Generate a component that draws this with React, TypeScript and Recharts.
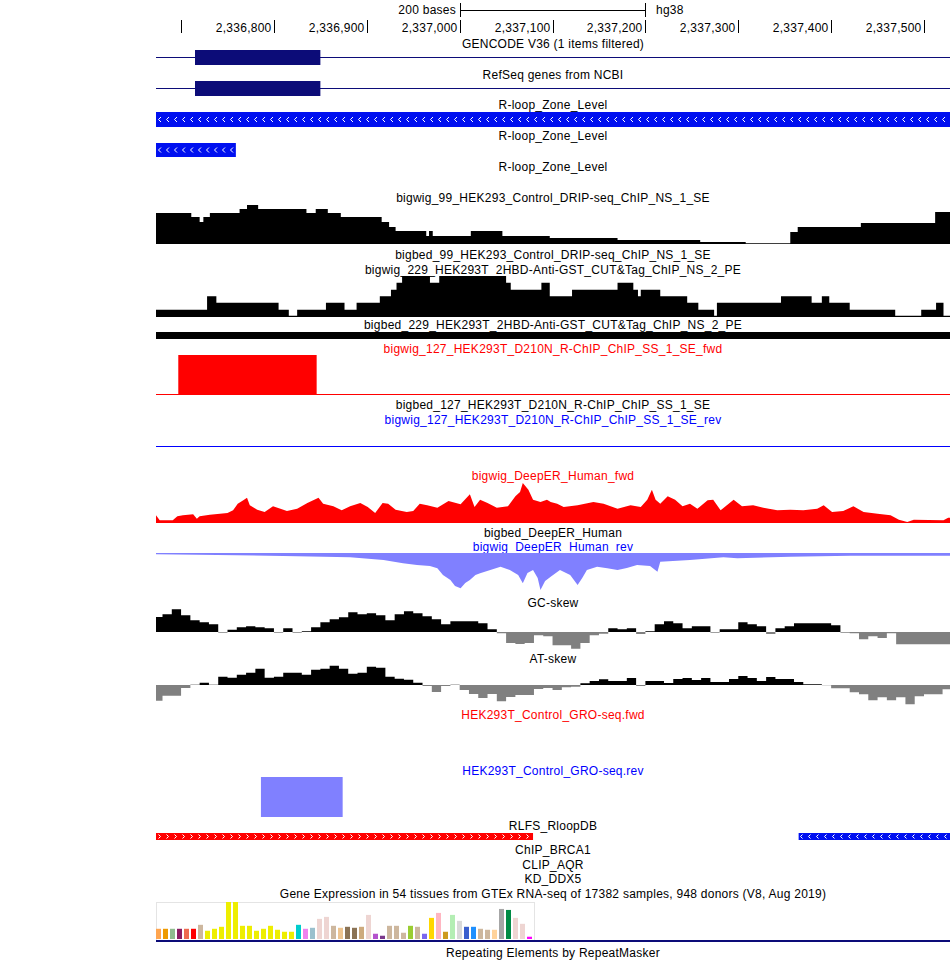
import React from "react";
import {
  ComposedChart,
  BarChart,
  Bar,
  Area,
  Line,
  Cell,
  XAxis,
  YAxis,
  ReferenceLine,
} from "recharts";

// window shown: chr17 (hg38) 2,336,673 - 2,337,528
const START = 2336673;
const END = 2337528;
const LEFT = 156;
const W = 794;
const FONT = '"Liberation Sans", Arial, Helvetica, sans-serif';
const NONE = { top: 0, right: 0, bottom: 0, left: 0 };

// ruler
const rulerTicks = [2336700, 2336800, 2336900, 2337000, 2337100, 2337200, 2337300, 2337400, 2337500];
const scaleBar: [number, number] = [2337000, 2337200];

// gene models (transcript runs through the whole window)
const gencodeTx: [number, number] = [START, END];
const gencodeCds: [number, number] = [2336715, 2336850];
const refseqTx: [number, number] = [START, END];
const refseqCds: [number, number] = [2336715, 2336850];

// bigBed items
const rloopZone1: [number, number] = [START, END];
const rloopZone2: [number, number] = [START, 2336759];
const cutTagPeak: [number, number] = [START, END];
const rlfsFwd: [number, number] = [START, 2337079];
const rlfsRev: [number, number] = [2337365, END];

// bigWig signals, [start, value]
const drip99: [number, number][] = [
  [2336673, 31], [2336711, 27], [2336720, 22], [2336724, 27], [2336731, 31], [2336763, 35],
  [2336771, 39], [2336783, 35], [2336835, 31], [2336845, 35], [2336858, 31], [2336872, 27],
  [2336916, 22], [2336924, 17], [2336931, 13], [2336964, 8], [2336967, 13], [2336971, 8],
  [2337012, 13], [2337046, 8], [2337097, 6], [2337170, 4], [2337259, 2], [2337308, 0.7],
  [2337356, 12], [2337364, 17], [2337432, 21], [2337512, 32],
];

const cutTag229: [number, number][] = [
  [2336673, 7.3], [2336728, 20.7], [2336738, 14.3], [2336805, 7.3], [2336816, 1.3], [2336825, 7.3],
  [2336856, 14.3], [2336876, 7.3], [2336889, 14.3], [2336914, 20.7], [2336926, 27.3], [2336932, 34.3],
  [2336938, 41], [2336968, 34.3], [2336978, 41], [2337050, 34.3], [2337055, 27.3], [2337088, 34.3],
  [2337097, 20.7], [2337121, 27.3], [2337170, 34.3], [2337187, 27.3], [2337192, 20.7], [2337195, 27.3],
  [2337216, 20.7], [2337245, 14.3], [2337257, 7.3], [2337274, 1.3], [2337277, 14.3], [2337346, 20.7],
  [2337379, 14.3], [2337390, 20.7], [2337398, 14.3], [2337420, 7.3], [2337469, 1.3], [2337497, 7.3],
  [2337513, 14.3], [2337521, 1.3],
];

const rchipFwd: [number, number][] = [[START, 0], [2336697, 1], [2336846, 0]];
const rchipRev: [number, number][] = [[START, 0]];

// DeepER coverage, sampled along the profile
const deeperFwd: [number, number][] = [
  [2336673, 7.7], [2336677, 2.7], [2336691, 2.7], [2336696, 6.7], [2336702, 7.7], [2336713, 8.7],
  [2336717, 4.3], [2336720, 6.7], [2336731, 8.3], [2336750, 10], [2336756, 12.7], [2336761, 19.3],
  [2336767, 22.7], [2336771, 25.3], [2336774, 17.7], [2336782, 13.3], [2336790, 11], [2336799, 16.7],
  [2336807, 14.3], [2336814, 12], [2336825, 14.3], [2336836, 20], [2336848, 25.3], [2336853, 19.3],
  [2336864, 16.7], [2336873, 12.7], [2336882, 16.7], [2336893, 20], [2336901, 16], [2336909, 10],
  [2336917, 20], [2336923, 19.3], [2336931, 13.3], [2336943, 11], [2336950, 12], [2336957, 19.3],
  [2336965, 17.7], [2336976, 15.3], [2336988, 22], [2337001, 18.7], [2337011, 28.7], [2337016, 16],
  [2337022, 23.3], [2337030, 20], [2337040, 15.3], [2337052, 16.7], [2337060, 26.7], [2337065, 31],
  [2337068, 40], [2337074, 33.3], [2337079, 23.3], [2337087, 21], [2337094, 23.3], [2337098, 21],
  [2337105, 19.3], [2337112, 16], [2337127, 17.7], [2337144, 21], [2337155, 19.3], [2337170, 14.3],
  [2337184, 17.7], [2337195, 16], [2337202, 23.3], [2337207, 33.3], [2337211, 23.3], [2337216, 19.3],
  [2337224, 26.7], [2337232, 23.3], [2337240, 16.7], [2337248, 19.3], [2337256, 14.3], [2337267, 22.7],
  [2337273, 23.3], [2337281, 12.7], [2337295, 23.3], [2337304, 16.7], [2337316, 17.7], [2337327, 15.3],
  [2337342, 12.7], [2337356, 13.3], [2337370, 12.7], [2337385, 14.3], [2337392, 17.7], [2337401, 11],
  [2337413, 12], [2337424, 16.7], [2337435, 11], [2337450, 9.3], [2337464, 7.7], [2337473, 3.3],
  [2337482, 1], [2337489, 3.3], [2337521, 2.7], [2337526, 5.3],
];

const deeperRev: [number, number][] = [
  [2336673, -1.3], [2336739, -2], [2336810, -3], [2336882, -4.3], [2336918, -7], [2336939, -10.3],
  [2336954, -12], [2336968, -13], [2336976, -15.3], [2336982, -22], [2336990, -27], [2336995, -33],
  [2337001, -35.3], [2337006, -30], [2337011, -27], [2337017, -22], [2337022, -20.3], [2337033, -17],
  [2337044, -13.7], [2337054, -17], [2337063, -22], [2337068, -30.3], [2337073, -20], [2337079, -17],
  [2337084, -25], [2337087, -37], [2337092, -28], [2337098, -23.7], [2337108, -17], [2337119, -22],
  [2337127, -32], [2337132, -25], [2337137, -17], [2337148, -13.7], [2337159, -15.3], [2337170, -17],
  [2337180, -15], [2337191, -12], [2337205, -13], [2337213, -18.7], [2337216, -8.7], [2337248, -7],
  [2337284, -4.3], [2337299, -5.3], [2337356, -3.7], [2337421, -2.7], [2337526, -2.7],
];

const groRev: [number, number][] = [[START, 0], [2336786, -1], [2336874, 0]];

// GC / AT skew in 10 bp windows, first window starts at 2,336,670
const SKEW_FIRST = 2336670;
const SKEW_BIN = 10;
const gcSkew = [
  15, 17.7, 22.7, 16.7, 11.7, 9.7, 7.7, -0.7, 2.3, 4.7, 5.7, 4.7, 3.7, -0.7, 3.7, -0.7, 0.7, 4.7,
  9.7, 12.7, 14.7, 19.7, 17.7, 18.7, 16.7, 11.7, 17.7, 20.7, 18.7, 15.7, 12.7, 7.7, 10.7, 10.7, 10.7,
  8.7, 2.7, -1.3, -11, -12, -11, -3.3, -4.3, -13.3, -13.3, -16.7, -11, -3.3, -1.7, 3.7, 2.7, 3.7, -2,
  0.7, 7.7, 10.7, 8.7, 3.7, 5.7, 5.7, -0.7, 2.7, 2.7, 9.7, 7.7, 5.7, -2, 3.7, 5.7, 8.7, 8.7, 8.7, 8.7,
  6.7, -0.7, -1.3, -7.3, -4.3, -6, -1.3, -12.3, -12.3, -12.3, -12.3, -12.3, -12.3,
];
const atSkew = [
  -15.7, -10.7, -10.7, -3, 0.3, 2.3, 0.3, 8.3, 7.3, 10.3, 12.3, 16.3, 7.3, 8.3, 12.3, 12.3, 10.3,
  15.3, 16.3, 19.3, 16.3, 11.3, 12.3, 18.3, 17.3, 8.3, 6.3, 5.3, 2.3, -1, -7, -1, 0.3, -5, -9, -13, -9,
  -16.3, -12, -10, -10, -4, -3, -5, -2.3, -1.7, 1.7, 4, 5.7, 4, 4, 7, -1, 4, 4, 2, 6, 7, 5, 7, 3, 3, 6,
  9, 7, 4, 8, 6, 6, 3, 0.7, 0.7, -0.3, -3.3, -3.3, -7.3, -9.3, -15.3, -12.3, -15.3, -12.3, -19.3,
  -11.3, -9.3, -9.3, -4.3,
];

// GTEx V8 median expression per tissue
const gtexTissues = [
  "Adipose Subcut", "Adipose Visceral", "Adrenal", "Artery Aorta", "Artery Coronary", "Artery Tibial",
  "Bladder", "Brain Amygdala", "Brain ACC", "Brain Caudate", "Brain Cereb Hemi", "Brain Cerebellum",
  "Brain Cortex", "Brain Frontal", "Brain Hippocampus", "Brain Hypothalamus", "Brain Nuc Acc",
  "Brain Putamen", "Brain Spinal", "Brain Subst Nigra", "Breast", "EBV Lymphocytes", "Fibroblasts",
  "Ectocervix", "Endocervix", "Colon Sigmoid", "Colon Transverse", "Esoph GEJ", "Esoph Mucosa",
  "Esoph Muscularis", "Fallopian Tube", "Heart Atrial", "Heart LV", "Kidney Cortex", "Kidney Medulla",
  "Liver", "Lung", "Salivary Gland", "Muscle Skeletal", "Nerve Tibial", "Ovary", "Pancreas",
  "Pituitary", "Prostate", "Skin No Sun", "Skin Sun", "Small Intestine", "Spleen", "Stomach", "Testis",
  "Thyroid", "Uterus", "Vagina", "Whole Blood",
];
const gtexTpm = [
  10.3, 10.3, 10.3, 10.3, 10.3, 10.3, 14.3, 8.3, 10.3, 12.3, 37.3, 37.3, 13.3, 13.3, 8.3, 10.3, 13.3,
  9.3, 7.3, 7.3, 14.3, 10.3, 11.3, 20.3, 22.3, 13.3, 11.3, 12.3, 11.3, 12.3, 24.3, 5.3, 3.3, 13.3,
  13.3, 6.3, 13.3, 12.3, 5.3, 21.3, 26.3, 7.3, 24.3, 18.3, 12.3, 12.3, 10.3, 9.3, 9.3, 30.3, 29.3,
  21.3, 15.3, 2.3,
];
const gtexColors = [
  "#FFA54F", "#EE9A00", "#8FBC8F", "#8B1C62", "#EE6A50", "#FF0000", "#CDB79E",
  "#EEEE00", "#EEEE00", "#EEEE00", "#EEEE00", "#EEEE00", "#EEEE00", "#EEEE00", "#EEEE00", "#EEEE00",
  "#EEEE00", "#EEEE00", "#EEEE00", "#EEEE00",
  "#00CDCD", "#EE82EE", "#9AC0CD", "#EED5D2", "#EED5D2", "#CDB79E", "#EEC591", "#8B7355", "#8B7355",
  "#CDAA7D", "#EED5D2", "#B452CD", "#7A378B", "#CDB79E", "#CDB79E", "#CDB79E", "#9ACD32", "#CDB79E",
  "#7A67EE", "#FFD700", "#FFB6C1", "#CD9B1D", "#B4EEB4", "#D9D9D9", "#3A5FCD", "#1E90FF", "#CDB79E",
  "#CDB79E", "#FFD39B", "#A6A6A6", "#008B45", "#EED5D2", "#EED5D2", "#FF00FF",
];

const NAVY = "#0c0c78";
const BLUE = "#0000ff";
const ZONE_BLUE = "#0010f0";
const RED = "#ff0000";
const LIGHT_BLUE = "#8080ff";

const toSteps = (steps: [number, number][]) => {
  const rows = steps.map(([pos, v]) => ({ pos, v }));
  rows.push({ pos: END, v: steps[steps.length - 1][1] });
  return rows;
};

function Txt({ base, color = "#000", children, left = LEFT, width = W, align = "center" }: any) {
  return (
    <div
      style={{
        position: "absolute",
        left,
        width,
        top: base - 10.2,
        fontSize: 12,
        lineHeight: "12px",
        color,
        textAlign: align,
        whiteSpace: "nowrap",
        letterSpacing: 0.25,
      }}
    >
      {children}
    </div>
  );
}

function Signal({ top, height, steps, domain, color, base, curve = "stepAfter", pad = 0 }: any) {
  return (
    <div style={{ position: "absolute", left: LEFT, top, width: W, height }}>
      <ComposedChart
        width={W}
        height={height}
        data={toSteps(steps)}
        margin={{ top: pad, right: 0, bottom: 0, left: 0 }}
      >
        <XAxis dataKey="pos" type="number" domain={[START, END]} hide allowDataOverflow />
        <YAxis type="number" domain={domain} hide allowDataOverflow />
        <Area
          type={curve}
          dataKey="v"
          stroke="none"
          fill={color}
          fillOpacity={1}
          baseValue={0}
          isAnimationActive={false}
        />
        {base && <ReferenceLine y={0} stroke={base} strokeWidth={1} />}
      </ComposedChart>
    </div>
  );
}

function Skew({ top, values }: { top: number; values: number[] }) {
  const data = values.map((v, i) => ({
    pos: SKEW_FIRST + i * SKEW_BIN,
    up: Math.max(v, 0),
    down: Math.min(v, 0),
  }));
  data.push({ ...data[data.length - 1], pos: END });
  return (
    <div style={{ position: "absolute", left: LEFT, top, width: W, height: 48 }}>
      <ComposedChart width={W} height={48} data={data} margin={NONE}>
        <XAxis dataKey="pos" type="number" domain={[START, END]} hide allowDataOverflow />
        <YAxis type="number" domain={[-24, 24]} hide allowDataOverflow />
        <Area type="stepAfter" dataKey="up" stroke="none" fill="#000" fillOpacity={1} baseValue={0} isAnimationActive={false} />
        <Area type="stepAfter" dataKey="down" stroke="none" fill="#808080" fillOpacity={1} baseValue={0} isAnimationActive={false} />
      </ComposedChart>
    </div>
  );
}

type Feat = { key: string; range: [number, number]; kind: string; color: string };

const featureShape = (kind: string, color: string) => (p: any) => {
  const { x, y, width, height } = p;
  if (kind === "line") {
    const cy = Math.floor(y + height / 2) + 0.5;
    return <line x1={x} x2={x + width} y1={cy} y2={cy} stroke={color} strokeWidth={1} />;
  }
  if (kind === "scale") {
    const cy = Math.floor(y + height / 2) + 0.5;
    const x0 = Math.round(x) + 0.5;
    const x1 = Math.round(x + width) + 0.5;
    return (
      <g stroke={color} strokeWidth={1}>
        <line x1={x0} x2={x1} y1={cy} y2={cy} />
        <line x1={x0} x2={x0} y1={y} y2={y + height} />
        <line x1={x1} x2={x1} y1={y} y2={y + height} />
      </g>
    );
  }
  const rect = <rect x={x} y={y} width={width} height={height} fill={color} />;
  if (kind === "chevL" || kind === "chevR") {
    const cy = y + height / 2;
    const a = height > 10 ? 2.5 : 2;
    const d: string[] = [];
    for (let cx = x + 2; cx + a + 1 <= x + width; cx += 8) {
      const px = Math.floor(cx) + 0.5;
      d.push(
        kind === "chevL"
          ? `M${px + a} ${cy - a}L${px} ${cy}L${px + a} ${cy + a}`
          : `M${px} ${cy - a}L${px + a} ${cy}L${px} ${cy + a}`
      );
    }
    return (
      <g>
        {rect}
        <path d={d.join("")} stroke="#fff" strokeWidth={1} fill="none" />
      </g>
    );
  }
  return rect;
};

function Features({ top, height, feats }: { top: number; height: number; feats: Feat[] }) {
  const row: any = { name: "row" };
  feats.forEach((f) => (row[f.key] = f.range));
  return (
    <div style={{ position: "absolute", left: LEFT, top, width: W, height }}>
      <BarChart
        layout="vertical"
        width={W}
        height={height}
        data={[row]}
        margin={NONE}
        barCategoryGap={0}
        barGap={-height}
      >
        <XAxis type="number" domain={[START, END]} hide allowDataOverflow />
        <YAxis type="category" dataKey="name" hide />
        {feats.map((f) => (
          <Bar
            key={f.key}
            dataKey={f.key}
            fill={f.color}
            isAnimationActive={false}
            shape={featureShape(f.kind, f.color)}
          />
        ))}
      </BarChart>
    </div>
  );
}

function RulerTick(props: any) {
  const { x, payload } = props;
  const px = Math.round(x) + 0.5;
  return (
    <g>
      <line x1={px} x2={px} y1={20} y2={33} stroke="#000" strokeWidth={1} />
      {x > 60 && (
        <text
          x={px - 3}
          y={31.5}
          textAnchor="end"
          fontSize={12}
          fontFamily={FONT}
          letterSpacing={0.25}
          fill="#000"
        >
          {payload.value.toLocaleString("en-US")}
        </text>
      )}
    </g>
  );
}

function Ruler() {
  const data = rulerTicks.map((pos) => ({ pos, v: 0 }));
  return (
    <div style={{ position: "absolute", left: LEFT, top: 0, width: W, height: 36 }}>
      <ComposedChart width={W} height={36} data={data} margin={NONE}>
        <XAxis
          dataKey="pos"
          type="number"
          orientation="top"
          domain={[START, END]}
          ticks={rulerTicks}
          interval={0}
          height={1}
          axisLine={false}
          tickLine={false}
          tick={(p: any) => <RulerTick {...p} />}
        />
        <YAxis type="number" domain={[0, 1]} hide />
        <Line dataKey="v" stroke="none" dot={false} isAnimationActive={false} />
      </ComposedChart>
    </div>
  );
}

function Gtex() {
  const data = gtexTissues.map((name, i) => ({ name, tpm: gtexTpm[i] }));
  return (
    <>
      <div
        style={{
          position: "absolute",
          left: 156,
          top: 902,
          width: 377,
          height: 37,
          border: "1px solid #e4e4e4",
        }}
      />
      <div style={{ position: "absolute", left: 155, top: 902, width: 378, height: 37 }}>
        <BarChart width={378} height={37} data={data} margin={NONE} barSize={5}>
          <XAxis dataKey="name" type="category" hide />
          <YAxis type="number" domain={[0, 37.3]} hide />
          <Bar dataKey="tpm" isAnimationActive={false}>
            {data.map((d, i) => (
              <Cell key={d.name} fill={gtexColors[i]} />
            ))}
          </Bar>
        </BarChart>
      </div>
    </>
  );
}

export default function App() {
  return (
    <div
      style={{
        position: "absolute",
        left: 0,
        top: 0,
        width: 950,
        height: 975,
        background: "#fff",
        fontFamily: FONT,
        overflow: "hidden",
      }}
    >
      {/* base position ruler */}
      <Txt base={14} left={300} width={156} align="right">200 bases</Txt>
      <Txt base={14} left={656} width={60} align="left">hg38</Txt>
      <Features top={3} height={14} feats={[{ key: "bar", range: scaleBar, kind: "scale", color: "#000" }]} />
      <Ruler />

      <Txt base={47.7}>GENCODE V36 (1 items filtered)</Txt>
      <Features
        top={50}
        height={15}
        feats={[
          { key: "tx", range: gencodeTx, kind: "line", color: NAVY },
          { key: "cds", range: gencodeCds, kind: "box", color: NAVY },
        ]}
      />
      <Txt base={79}>RefSeq genes from NCBI</Txt>
      <Features
        top={81}
        height={15}
        feats={[
          { key: "tx", range: refseqTx, kind: "line", color: NAVY },
          { key: "cds", range: refseqCds, kind: "box", color: NAVY },
        ]}
      />

      <Txt base={108.7}>R-loop_Zone_Level</Txt>
      <Features top={112} height={15} feats={[{ key: "z", range: rloopZone1, kind: "chevL", color: ZONE_BLUE }]} />
      <Txt base={140}>R-loop_Zone_Level</Txt>
      <Features top={143} height={14} feats={[{ key: "z", range: rloopZone2, kind: "chevL", color: ZONE_BLUE }]} />
      <Txt base={171.3}>R-loop_Zone_Level</Txt>

      <Txt base={202}>bigwig_99_HEK293_Control_DRIP-seq_ChIP_NS_1_SE</Txt>
      <Signal top={204} height={40} steps={drip99} domain={[0, 40]} color="#000" />
      <Txt base={259.3}>bigbed_99_HEK293_Control_DRIP-seq_ChIP_NS_1_SE</Txt>

      <Txt base={273.7}>bigwig_229_HEK293T_2HBD-Anti-GST_CUT&amp;Tag_ChIP_NS_2_PE</Txt>
      <Signal top={276} height={41} steps={cutTag229} domain={[0, 41]} color="#000" />
      <Txt base={329.3}>bigbed_229_HEK293T_2HBD-Anti-GST_CUT&amp;Tag_ChIP_NS_2_PE</Txt>
      <Features top={332} height={7} feats={[{ key: "p", range: cutTagPeak, kind: "box", color: "#000" }]} />

      <Txt base={353} color={RED}>bigwig_127_HEK293T_D210N_R-ChIP_ChIP_SS_1_SE_fwd</Txt>
      <Signal top={355} height={39.5} steps={rchipFwd} domain={[0, 1]} color={RED} base={RED} />
      <Txt base={409}>bigbed_127_HEK293T_D210N_R-ChIP_ChIP_SS_1_SE</Txt>
      <Txt base={423.7} color={BLUE}>bigwig_127_HEK293T_D210N_R-ChIP_ChIP_SS_1_SE_rev</Txt>
      <Signal top={446} height={20} pad={0.5} steps={rchipRev} domain={[-1, 0]} color={BLUE} base={BLUE} />

      <Txt base={480} color={RED}>bigwig_DeepER_Human_fwd</Txt>
      <Signal top={482} height={41} steps={deeperFwd} domain={[0, 41]} color={RED} curve="linear" />
      <Txt base={536.7}>bigbed_DeepER_Human</Txt>
      <Txt base={551} color={BLUE}>bigwig_DeepER_Human_rev</Txt>
      <Signal top={553} height={40} steps={deeperRev} domain={[-40, 0]} color={LIGHT_BLUE} curve="linear" />

      <Txt base={607}>GC-skew</Txt>
      <Skew top={608} values={gcSkew} />
      <Txt base={663.3}>AT-skew</Txt>
      <Skew top={661} values={atSkew} />

      <Txt base={719.5} color={RED}>HEK293T_Control_GRO-seq.fwd</Txt>
      <Txt base={775} color={BLUE}>HEK293T_Control_GRO-seq.rev</Txt>
      <Signal top={777} height={40} steps={groRev} domain={[-1, 0]} color={LIGHT_BLUE} />

      <Txt base={830.3}>RLFS_RloopDB</Txt>
      <Features
        top={833}
        height={7}
        feats={[
          { key: "f", range: rlfsFwd, kind: "chevR", color: RED },
          { key: "r", range: rlfsRev, kind: "chevL", color: ZONE_BLUE },
        ]}
      />
      <Txt base={854}>ChIP_BRCA1</Txt>
      <Txt base={868.7}>CLIP_AQR</Txt>
      <Txt base={883.3}>KD_DDX5</Txt>
      <Txt base={898.3}>
        Gene Expression in 54 tissues from GTEx RNA-seq of 17382 samples, 948 donors (V8, Aug 2019)
      </Txt>
      <Gtex />
      <Features top={940} height={2} feats={[{ key: "g", range: gencodeTx, kind: "box", color: NAVY }]} />
      <Txt base={956.7}>Repeating Elements by RepeatMasker</Txt>
    </div>
  );
}
